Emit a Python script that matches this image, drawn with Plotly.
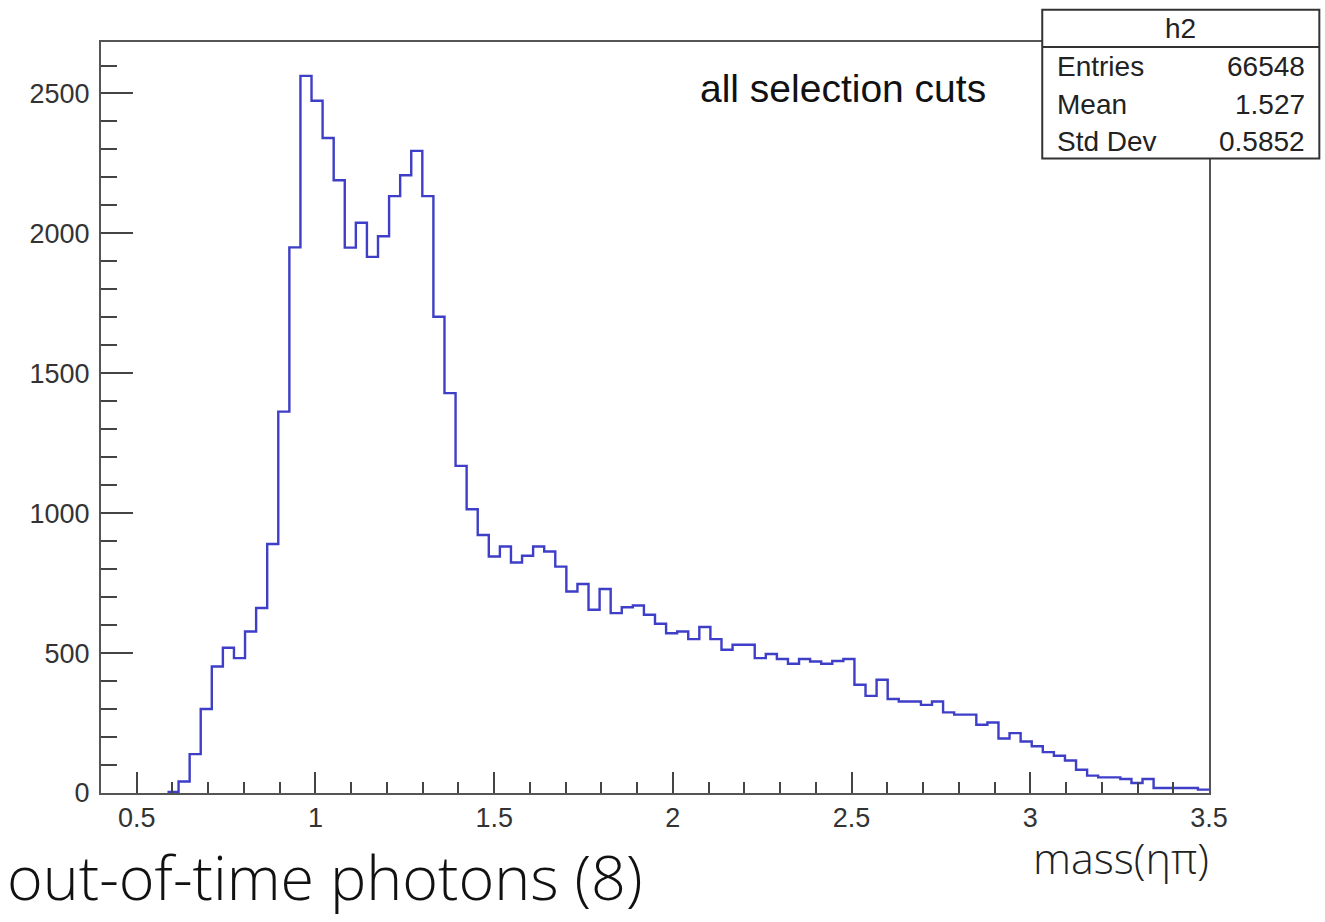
import plotly.graph_objects as go

# ---- data ----
bin_low = 0.4
bin_high = 3.5
n_bins = 100
counts = [
    0, 0, 0, 0, 0, 0, 4, 41, 139, 300,
    452, 519, 482, 577, 661, 890, 1363, 1950, 2563, 2474,
    2341, 2190, 1949, 2038, 1916, 1990, 2133, 2208, 2295, 2133,
    1702, 1429, 1169, 1014, 922, 845, 881, 824, 848, 881,
    863, 809, 720, 747, 655, 729, 643, 664, 670, 637,
    605, 571, 577, 550, 593, 550, 512, 530, 530, 482,
    497, 479, 462, 479, 470, 462, 472, 479, 387, 347,
    405, 336, 327, 327, 315, 327, 288, 280, 280, 244,
    252, 195, 214, 184, 167, 146, 133, 116, 83, 62,
    56, 56, 50, 36, 50, 18, 18, 18, 18, 12,
]
stats_labels = ["Entries", "Mean", "Std Dev"]
stats_values = ["66548", "1.527", "0.5852"]
hist_name = "h2"
x_ticks = [0.5, 1, 1.5, 2, 2.5, 3, 3.5]
x_ticktext = ["0.5", "1", "1.5", "2", "2.5", "3", "3.5"]
y_ticks = [0, 500, 1000, 1500, 2000, 2500]
y_ticktext = ["0", "500", "1000", "1500", "2000", "2500"]

width = (bin_high - bin_low) / n_bins
edges = [bin_low + i * width for i in range(n_bins + 1)]
first = next(i for i, c in enumerate(counts) if c > 0)
xs = edges[first:]
ys = counts[first:] + [counts[-1]]

W, H = 1325, 922
# plot area in window pixel coordinates
L, R, T, B = 101, 1208.7, 41.7, 793.3


def px(x):
    return (x - L) / (R - L)


def py(y):
    return (B - y) / (B - T)


fig = go.Figure()
fig.add_trace(go.Scatter(
    x=xs, y=ys, mode="lines", line=dict(shape="hv", color="#3e3ec8", width=2.4),
    showlegend=False, hoverinfo="skip",
))

font_main = "Liberation Sans, Arial, sans-serif"
font_light = "Open Sans, Roboto, sans-serif"
axis_common = dict(
    showline=True, linecolor="#555555", linewidth=2, mirror=True,
    showgrid=False, zeroline=False, ticks="inside", tickcolor="#444444",
    tickwidth=2, tickfont=dict(family=font_main, size=27, color="#333333"),
)
fig.update_xaxes(
    range=[bin_low, bin_high], tickvals=x_ticks, ticktext=x_ticktext,
    ticklen=21, minor=dict(dtick=0.1, tick0=0.4, ticks="inside", ticklen=11,
                           tickcolor="#444444", tickwidth=2),
    **axis_common,
)
fig.update_yaxes(
    range=[0, 2684], tickvals=y_ticks, ticktext=y_ticktext,
    ticklen=32, minor=dict(dtick=100, tick0=0, ticks="inside", ticklen=16,
                           tickcolor="#444444", tickwidth=2),
    ticklabelstandoff=4,
    **axis_common,
)

shapes = []
# stats box
bx0, bx1, by0, by1 = 1042, 1319, 9.3, 158.3
shapes.append(dict(type="rect", xref="paper", yref="paper",
                   x0=px(bx0), x1=px(bx1), y0=py(by1), y1=py(by0),
                   line=dict(color="#333333", width=2), fillcolor="white", layer="above"))
shapes.append(dict(type="line", xref="paper", yref="paper",
                   x0=px(bx0), x1=px(bx1), y0=py(46.7), y1=py(46.7),
                   line=dict(color="#333333", width=2), layer="above"))

annotations = []
stat_font = dict(family=font_main, size=28, color="#222222")
annotations.append(dict(text=hist_name, xref="paper", yref="paper",
                        x=px((bx0 + bx1) / 2), y=py(28), xanchor="center", yanchor="middle",
                        showarrow=False, font=stat_font))
row_y = [66, 104, 141]
for lab, val, ry in zip(stats_labels, stats_values, row_y):
    annotations.append(dict(text=lab, xref="paper", yref="paper", x=px(1055), y=py(ry),
                            xanchor="left", yanchor="middle", showarrow=False, font=stat_font))
    annotations.append(dict(text=val, xref="paper", yref="paper", x=px(1307), y=py(ry),
                            xanchor="right", yanchor="middle", showarrow=False, font=stat_font))

annotations.append(dict(text="all selection cuts", xref="paper", yref="paper",
                        x=px(843), y=py(88), xanchor="center", yanchor="middle",
                        showarrow=False, font=dict(family=font_main, size=39, color="#111111")))
annotations.append(dict(text="mass(ηπ)", xref="paper", yref="paper",
                        x=px(1211), y=py(858), xanchor="right", yanchor="middle",
                        showarrow=False, font=dict(family=font_light, size=43,
                                                   color="#222222", weight=300)))
annotations.append(dict(text="out-of-time photons (8)", xref="paper", yref="paper",
                        x=px(5), y=py(877), xanchor="left", yanchor="middle",
                        showarrow=False, font=dict(family=font_light, size=61,
                                                   color="#111111", weight=300)))

fig.update_layout(
    width=W, height=H,
    margin=dict(l=L, r=W - R, t=T, b=H - B, autoexpand=False),
    paper_bgcolor="white", plot_bgcolor="white",
    shapes=shapes, annotations=annotations,
)
fig.write_html(
    "out.html",
    config={"displayModeBar": False},
    post_script="document.body.style.margin='0';document.body.style.overflow='hidden';",
)
